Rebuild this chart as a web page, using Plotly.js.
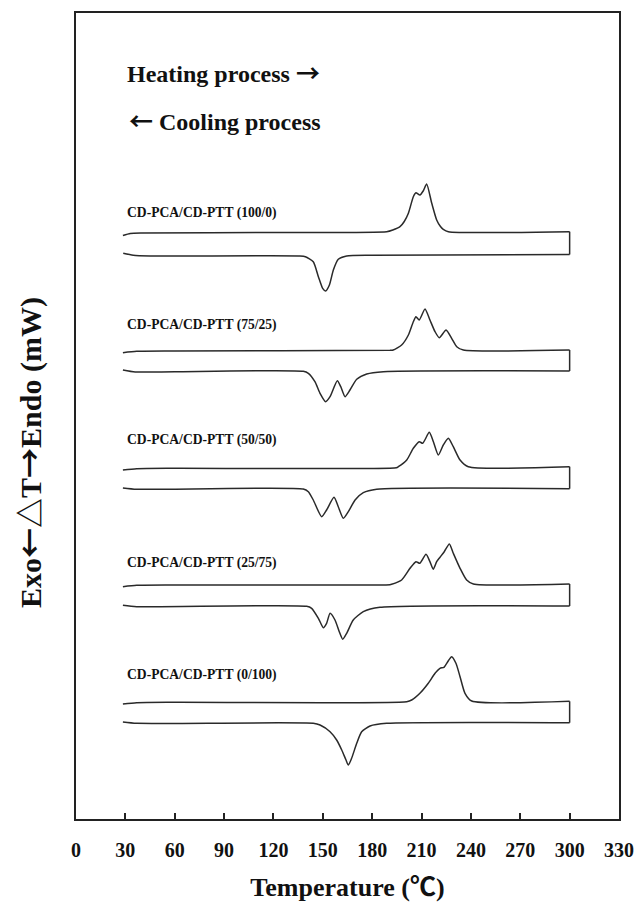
<!DOCTYPE html>
<html>
<head>
<meta charset="utf-8">
<script src="https://cdn.plot.ly/plotly-3.0.1.min.js"></script>
<style>
  html, body { margin: 0; padding: 0; background: #fff; }
  #chart { width: 636px; height: 904px; }
</style>
</head>
<body>
<div id="chart"></div>
<script>
// DSC thermograms of CD-PCA/CD-PTT blends, curves stacked on one arbitrary heat-flow scale.
const sampleNames = ['(100/0)', '(75/25)', '(50/50)', '(25/75)', '(0/100)'];

// Heating scans (temperature in °C, heat flow offset per blend)
const heat100T = [28.5, 33, 40, 120, 188.8, 192.5, 196.9, 199.5, 202, 205, 206.6, 209, 211, 213.1, 216.2, 219.2, 221.5, 223.2, 226.3, 300];
const heat100Y = [583.5, 585.5, 586, 586.5, 587.3, 589, 592.3, 597.5, 605.7, 622.3, 626.3, 624, 628, 635, 615.7, 599, 592.5, 589.7, 587.3, 587.3];

const heat75T = [28.5, 36.9, 60, 190.8, 192.8, 197.9, 202, 205, 206.6, 208.6, 212.1, 215.1, 218.2, 220.8, 224.9, 228.3, 231.4, 235.4, 300];
const heat75Y = [466.3, 467.7, 468, 468.7, 469, 474, 484, 497.3, 502.3, 499, 510, 499, 487.3, 481.3, 489, 480.7, 472.3, 469, 469];

const heat50T = [28.5, 36.9, 60, 194.7, 195.9, 201, 205, 208.6, 210.7, 214.7, 217.2, 220.2, 223.2, 226.3, 229.3, 233.4, 238.4, 300];
const heat50Y = [349, 350.3, 350.7, 351.3, 352.3, 359, 370.7, 377.3, 375.7, 386.7, 377.3, 364, 374, 380.7, 372.3, 359, 352.3, 352.3];

const heat25T = [28.5, 36.9, 60, 190.8, 191.8, 197.9, 203, 206.6, 209, 212.7, 215.1, 217.1, 219.2, 221.2, 223.8, 226.9, 229.3, 233.4, 237.4, 241.5, 300];
const heat25Y = [232.3, 233.7, 234, 234.3, 234.7, 239, 250.7, 257.3, 255.7, 264.7, 257.3, 249.7, 257.3, 261.7, 267.3, 275, 265.7, 250.7, 239, 235, 235];

const heat0T = [28.5, 36.9, 60, 201, 204, 209, 214.1, 218.2, 221.2, 223.6, 226.3, 228.3, 230.9, 233.4, 236.4, 240.5, 300];
const heat0Y = [115, 116.3, 116.7, 117.3, 119, 125.7, 135.7, 145.7, 150.7, 151.7, 158.3, 162.3, 155.7, 142.3, 125.7, 118, 117.7];

// Cooling scans
const cool100T = [28.7, 34.8, 45, 136.1, 139.4, 144.2, 147.3, 149.9, 151.7, 154, 156.4, 159.4, 164.5, 180, 300];
const cool100Y = [565.7, 563.7, 563, 563, 562.3, 557.3, 542.3, 530.7, 528, 534, 549, 559.7, 563, 563.7, 564.5];

const cool75T = [28.5, 36, 60, 138.1, 141.2, 145.2, 148.3, 151.7, 154.4, 158.8, 160.9, 163.5, 166.5, 170.6, 176.7, 186.8, 300];
const cool75Y = [449, 447, 447.3, 447.7, 445.7, 437.3, 425.7, 417.3, 422.3, 438.3, 432.3, 422.3, 429, 439.7, 445, 447.3, 448];

const cool50T = [28.5, 36.9, 138.1, 141.2, 144.2, 149.3, 152.3, 156.8, 159.4, 162.5, 165.5, 169.6, 174.6, 182.7, 300];
const cool50Y = [331, 329.7, 330, 327.3, 319, 302.3, 309, 321.7, 312.3, 300.7, 307.3, 319, 326.3, 329.7, 330.3];

const cool25T = [28.5, 36.9, 140.2, 143.2, 147.3, 150.3, 152.3, 154.4, 157.4, 160, 162.1, 164.5, 168.5, 174.6, 184.7, 300];
const cool25Y = [213.7, 212.3, 212.7, 210.7, 200.7, 191.3, 195.7, 205.7, 199, 187.3, 179.7, 185.7, 199, 207.3, 211.7, 213];

const cool0T = [28.5, 36.9, 144.2, 148.3, 154.4, 158.4, 161.5, 164.1, 165.5, 167.5, 170.6, 173.6, 178.7, 188.8, 300];
const cool0Y = [97, 95.7, 95.7, 94, 87.3, 79, 69, 59, 54, 60.7, 75.7, 87.3, 93, 95.7, 96.3];

// Label heights for each blend's caption
const labelY = [606.3, 494, 379, 255.7, 144];

const tickVals = [0, 30, 60, 90, 120, 150, 180, 210, 240, 270, 300, 330];

const heating = [[heat100T, heat100Y], [heat75T, heat75Y], [heat50T, heat50Y], [heat25T, heat25Y], [heat0T, heat0Y]];
const cooling = [[cool100T, cool100Y], [cool75T, cool75Y], [cool50T, cool50Y], [cool25T, cool25Y], [cool0T, cool0Y]];

const serif = '"Liberation Serif", "Times New Roman", serif';
const cjk = "font-family:'Noto Sans CJK JP'";
const sym = s => '<span style="' + cjk + '">' + s + '</span>';
const lineStyle = { color: '#2a2a2a', width: 1.5, shape: 'spline', smoothing: 0.6 };

const traces = [];
sampleNames.forEach((name, i) => {
  const [hT, hY] = heating[i];
  const [cT, cY] = cooling[i];
  traces.push({ x: hT, y: hY, mode: 'lines', line: lineStyle, hoverinfo: 'skip', name: 'heating ' + name });
  traces.push({ x: cT, y: cY, mode: 'lines', line: lineStyle, hoverinfo: 'skip', name: 'cooling ' + name });
  // closing segment joining both scans at the end temperature
  traces.push({
    x: [hT[hT.length - 1], cT[cT.length - 1]],
    y: [hY[hY.length - 1], cY[cY.length - 1]],
    mode: 'lines', line: { color: '#2a2a2a', width: 1.5 }, hoverinfo: 'skip'
  });
});

const annotations = sampleNames.map((name, i) => ({
  x: 30, y: labelY[i], xref: 'x', yref: 'y', xanchor: 'left', yanchor: 'middle',
  text: 'CD-PCA/CD-PTT ' + name, showarrow: false,
  font: { family: serif, size: 13.6, color: '#111', weight: 700 }
}));

annotations.push({
  x: 30, y: 747.5, xref: 'x', yref: 'y', xanchor: 'left', yanchor: 'middle',
  text: 'Heating process ' + sym('→'), showarrow: false,
  font: { family: serif, size: 24, color: '#111', weight: 700 }
});
annotations.push({
  x: 31, y: 699.5, xref: 'x', yref: 'y', xanchor: 'left', yanchor: 'middle',
  text: sym('←') + ' Cooling process', showarrow: false,
  font: { family: serif, size: 24, color: '#111', weight: 700 }
});
annotations.push({
  x: -0.0884, y: 367, xref: 'paper', yref: 'y', xanchor: 'center', yanchor: 'middle',
  text: 'Exo' + sym('←△') + 'T' + sym('→') + 'Endo (mW)', textangle: -90, showarrow: false,
  font: { family: serif, size: 30, color: '#111', weight: 700 }
});

const layout = {
  width: 636, height: 904,
  margin: { l: 76, r: 17, t: 13, b: 85 },
  paper_bgcolor: '#fff', plot_bgcolor: '#fff',
  showlegend: false,
  xaxis: {
    range: [0, 330], tickvals: tickVals, ticktext: tickVals.map(String),
    ticks: 'inside', ticklen: 6, tickwidth: 2, tickcolor: '#222',
    showline: true, mirror: true, linewidth: 2, linecolor: '#222',
    showgrid: false, zeroline: false, ticklabelstandoff: 12,
    tickfont: { family: serif, size: 20, color: '#111', weight: 700 },
    title: { text: 'Temperature (' + sym('℃') + ')', font: { family: serif, size: 26, color: '#111', weight: 700 }, standoff: 18 }
  },
  yaxis: {
    range: [0, 806], showticklabels: false, ticks: '',
    showline: true, mirror: true, linewidth: 2, linecolor: '#222',
    showgrid: false, zeroline: false
  },
  annotations: annotations
};

Plotly.newPlot('chart', traces, layout, { displayModeBar: false, staticPlot: true });
</script>
</body>
</html>
